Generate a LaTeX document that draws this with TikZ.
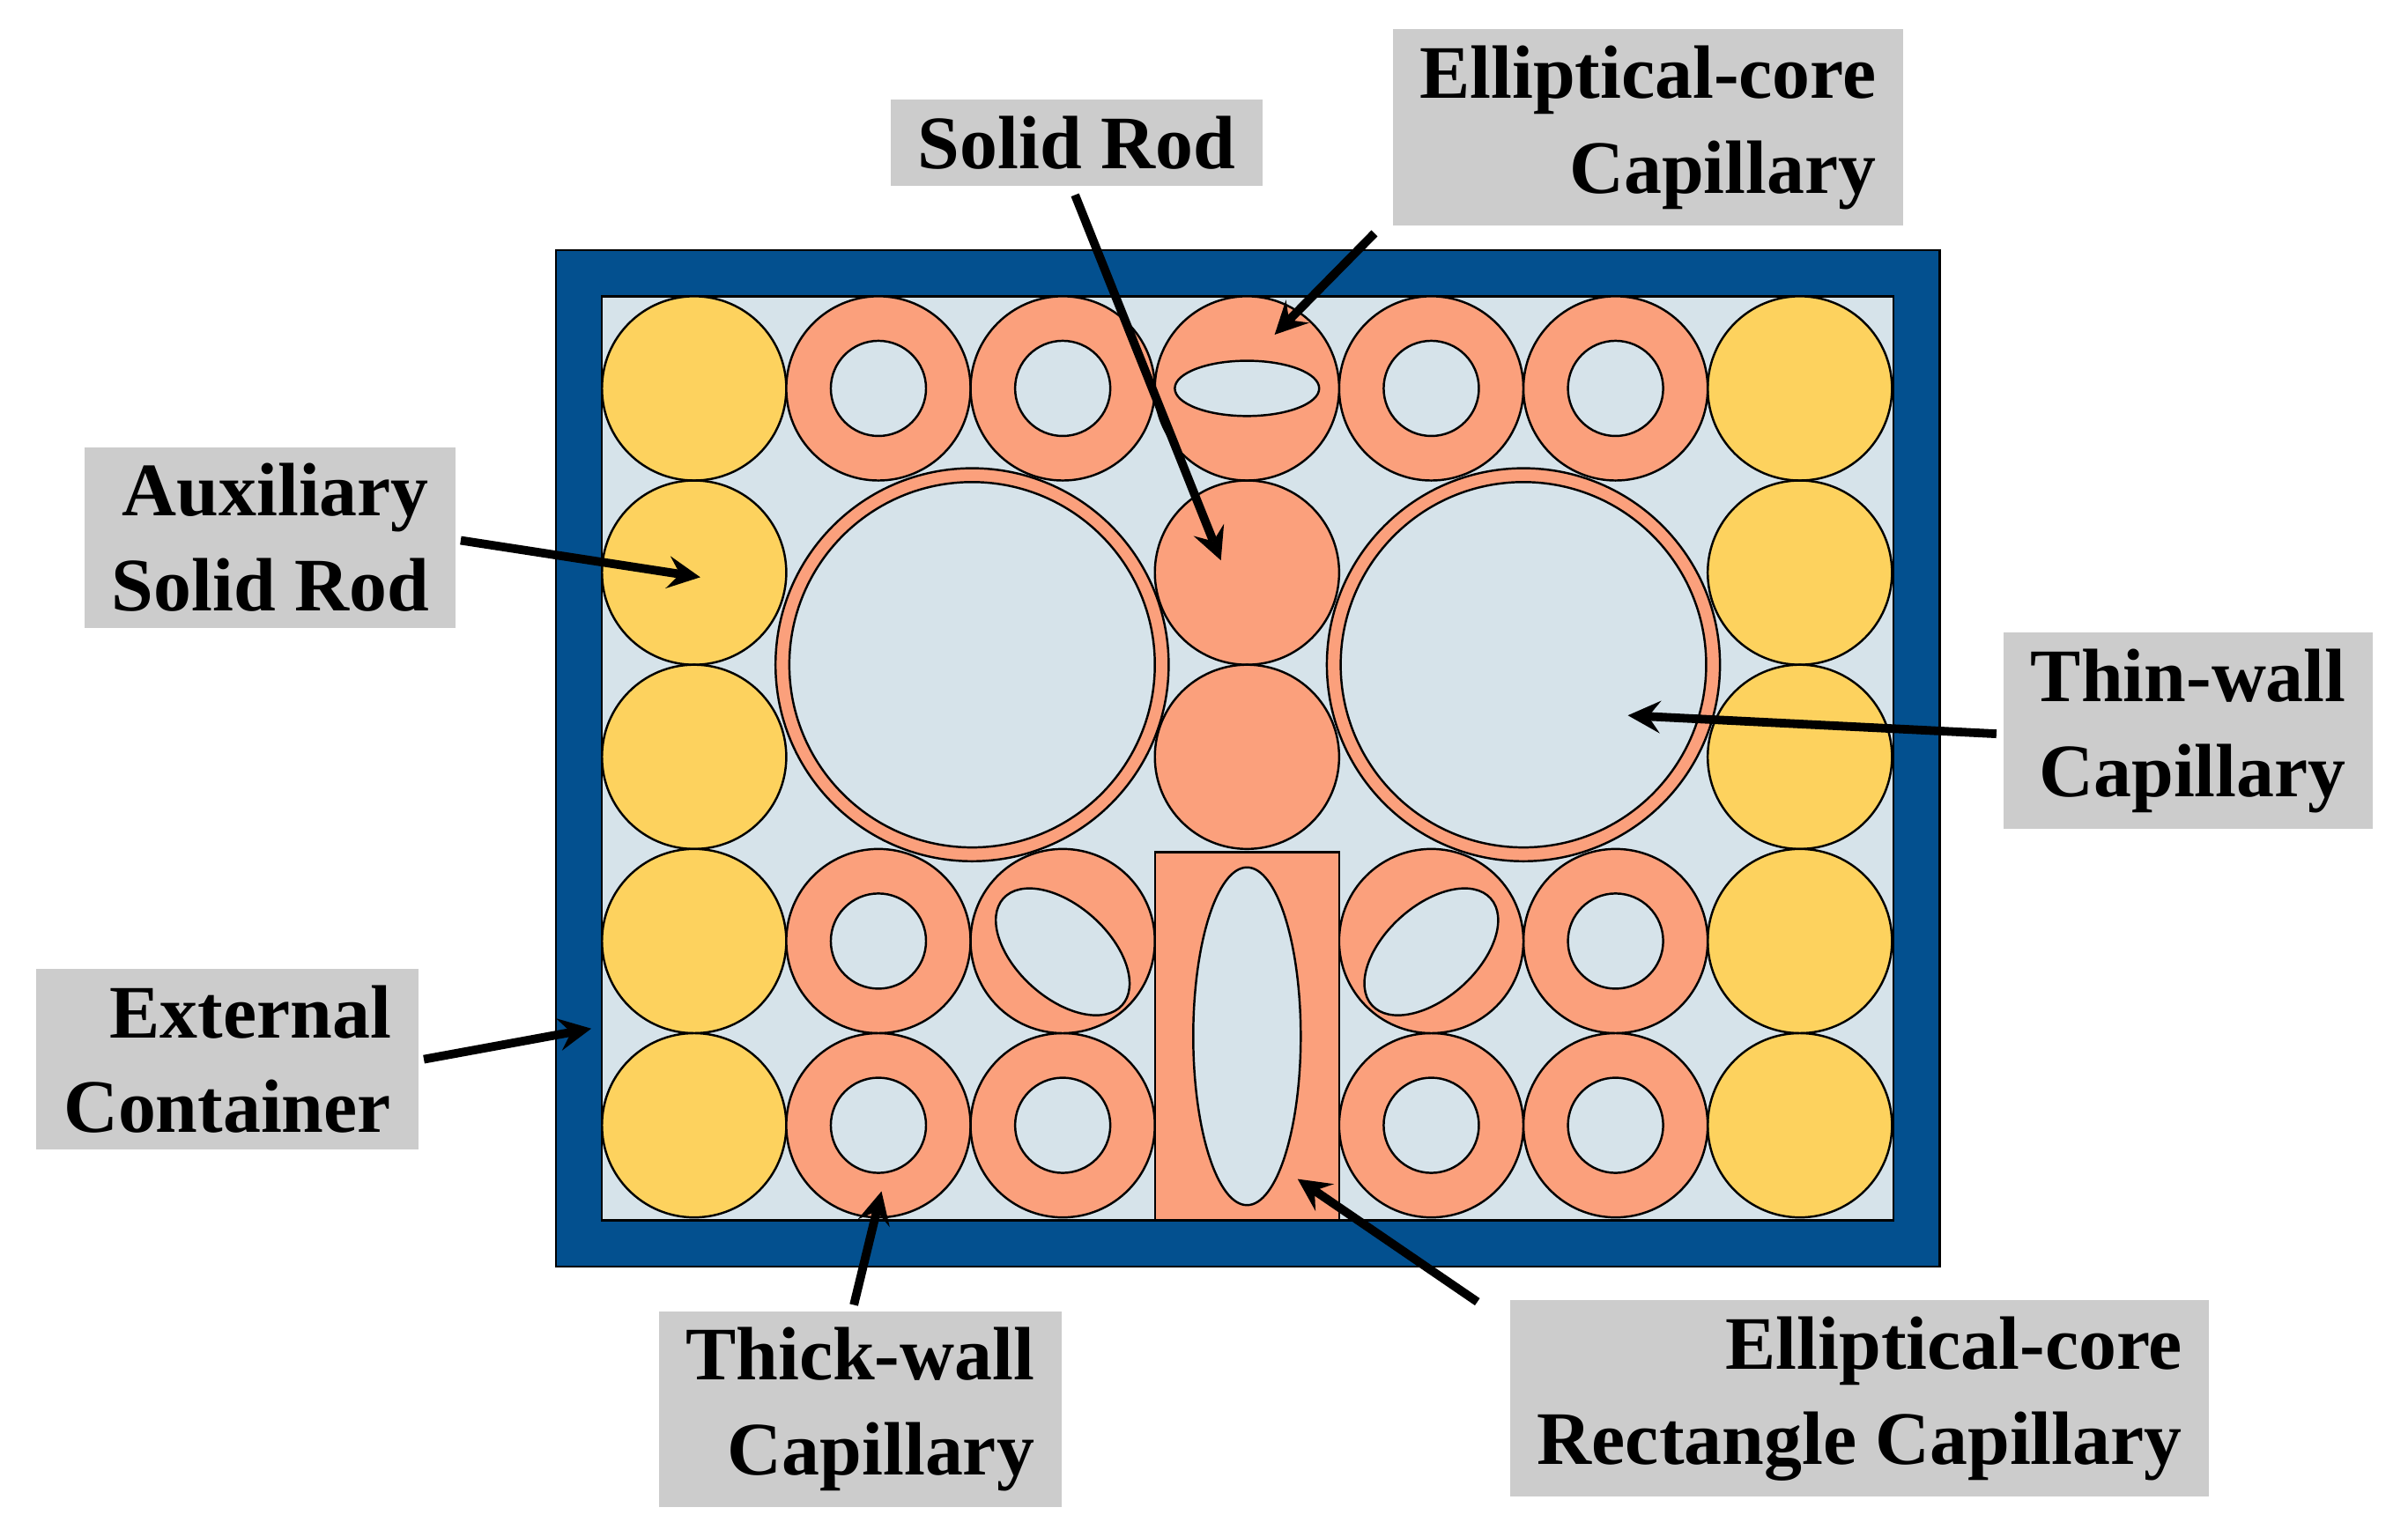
\documentclass[tikz,border=0pt]{standalone}
\usepackage{fontspec}
\setmainfont{Liberation Serif}
\definecolor{cblue}{HTML}{03508F}
\definecolor{clight}{HTML}{D6E3EA}
\definecolor{cyel}{HTML}{FDD25E}
\definecolor{corg}{HTML}{FBA07C}
\definecolor{cgray}{HTML}{CCCCCC}
\begin{document}
\begin{tikzpicture}[x=0.01cm,y=-0.01cm,
  yel/.style={fill=cyel,draw=black,line width=0.4pt},
  org/.style={fill=corg,draw=black,line width=0.4pt},
  hole/.style={fill=clight,draw=black,line width=0.4pt},
  lab/.style={fill=cgray,font=\fontsize{14}{17.6}\selectfont\bfseries,align=right,inner xsep=5pt,inner ysep=3pt},
  arr/.style={-stealth,line width=1.6pt,shorten >=0pt}]
\useasboundingbox (0,0) rectangle (1568,1001);
% container
\draw[fill=cblue,draw=black] (362,163) rectangle (1263,825);
\draw[fill=clight,draw=black] (392,193) rectangle (1233,795);
% yellow rods
\foreach \y in {253,373,493,613,733}{
  \draw[yel] (452,\y) circle[radius=60];
  \draw[yel] (1172,\y) circle[radius=60];}
% thick-wall capillaries
\foreach \p in {(572,253),(692,253),(932,253),(1052,253),(572,613),(1052,613),(572,733),(692,733),(932,733),(1052,733)}{
  \draw[org] \p circle[radius=60];
  \draw[hole] \p circle[radius=31];}
% elliptical-core capillary top
\draw[org] (812,253) circle[radius=60];
\draw[hole] (812,253) ellipse[x radius=47,y radius=18];
% tilted
\draw[org] (692,613) circle[radius=60];
\draw[hole,rotate around={-42:(692,620)}] (692,620) ellipse[x radius=52,y radius=30];
\draw[org] (932,613) circle[radius=60];
\draw[hole,rotate around={42:(932,620)}] (932,620) ellipse[x radius=52,y radius=30];
% thin-wall
\draw[org] (633,433) circle[radius=128];
\draw[hole] (633,433) circle[radius=119];
\draw[org] (992,433) circle[radius=128];
\draw[hole] (992,433) circle[radius=119];
% solid rods
\draw[org] (812,373) circle[radius=60];
\draw[org] (812,493) circle[radius=60];
% rectangle capillary
\draw[org] (752,555) rectangle (872,795);
\draw[hole] (812,675) ellipse[x radius=35,y radius=110];
% labels
\node[lab] (sr) at (701,93) {Solid Rod};
\node[lab] (ec) at (1073,83) {Elliptical-core\\Capillary};
\node[lab] (au) at (176,350) {Auxiliary\\Solid Rod};
\node[lab] (tw) at (1425,476) {Thin-wall\\Capillary};
\node[lab] (ex) at (148,690) {External\\Container};
\node[lab] (tk) at (560,918) {Thick-wall\\Capillary};
\node[lab] (er) at (1211,911) {Elliptical-core\\Rectangle Capillary};
\coordinate (sr1) at (700,127); \coordinate (sr2) at (795,365);
\coordinate (ec1) at (895,152); \coordinate (ec2) at (830,218);
\coordinate (au1) at (300,352); \coordinate (au2) at (456,376);
\coordinate (tw1) at (1300,478); \coordinate (tw2) at (1060,466);
\coordinate (ex1) at (276,690); \coordinate (ex2) at (385,670);
\coordinate (tk1) at (556,850); \coordinate (tk2) at (574,776);
\coordinate (er1) at (962,848); \coordinate (er2) at (845,768);
\foreach \a in {sr,ec,au,tw,ex,tk,er}{\draw[arr] (\a1) -- (\a2);}
\end{tikzpicture}
\end{document}
